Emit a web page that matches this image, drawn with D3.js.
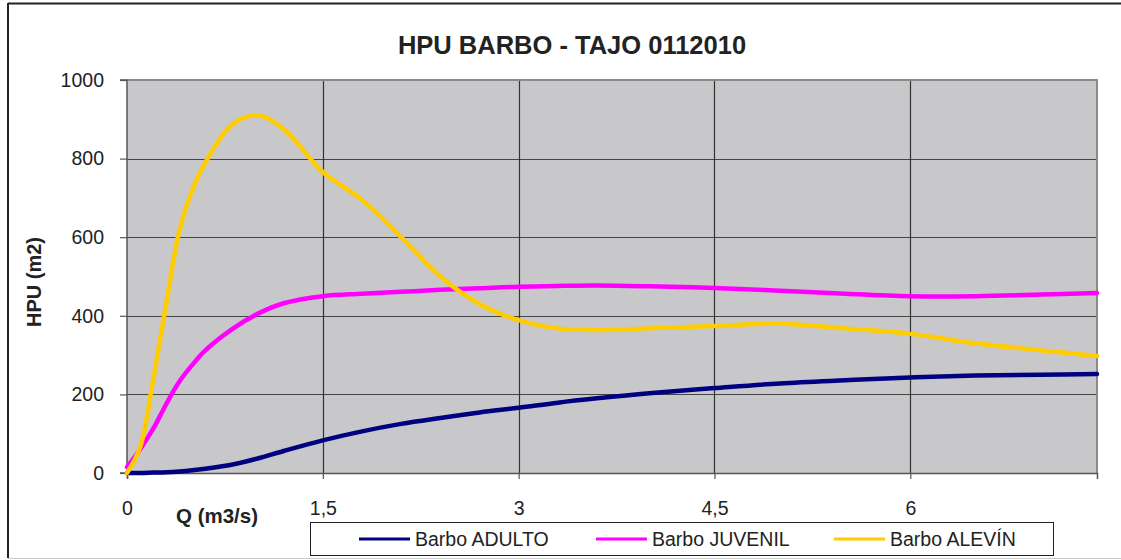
<!DOCTYPE html>
<html><head><meta charset="utf-8">
<script src="https://cdn.jsdelivr.net/npm/d3@7"></script>
<style>body{margin:0;background:#fff}svg{display:block;font-family:"Liberation Sans",Arial,sans-serif}</style>
</head><body><svg id="c" width="1121" height="560"></svg>
<script>
const title = "HPU BARBO - TAJO 0112010";
const xTitle = "Q (m3/s)";
const yTitle = "HPU (m2)";
const xTicks = [0, 1.5, 3, 4.5, 6];
const xTickLabels = ["0", "1,5", "3", "4,5", "6"];
const yTicks = [0, 200, 400, 600, 800, 1000];
const seriesNames = ["Barbo ADULTO", "Barbo JUVENIL", "Barbo ALEVÍN"];
const seriesColors = ["#000080", "#FF00FF", "#FFCC00"];
const Q = [0, 0.1, 0.2, 0.3, 0.4, 0.5, 0.6, 0.8, 1.0, 1.2, 1.5, 1.8, 2.1, 2.4, 2.7, 3.0, 3.3, 3.6, 4.0, 4.5, 5.0, 5.5, 6.0, 6.5, 7.0, 7.43];
const adulto = [0, 0, 1, 2, 4, 7, 11, 21, 37, 56, 83, 106, 125, 140, 154, 166, 179, 190, 203, 216, 228, 236, 243, 248, 250, 252];
const juvenil = [15, 60, 112, 175, 232, 275, 312, 365, 405, 432, 450, 456, 461, 466, 470, 474, 476, 477, 475, 471, 464, 456, 450, 450, 454, 458];
const alevin = [0, 65, 237, 430, 615, 720, 790, 885, 910, 875, 766, 695, 600, 500, 430, 389, 368, 364, 368, 374, 380, 368, 354, 330, 312, 298];
const seriesValues = [adulto, juvenil, alevin];

const svg = d3.select("#c");
const L = 127, R = 1097, T = 80, B = 473;
const x = d3.scaleLinear().domain([0, 7.43]).range([L, R]);
const y = d3.scaleLinear().domain([0, 1000]).range([B, T]);

// outer frame
svg.append("line").attr("x1", 8).attr("x2", 1121).attr("y1", 3.5).attr("y2", 3.5).attr("stroke", "#222").attr("stroke-width", 2);
svg.append("line").attr("x1", 8).attr("x2", 8).attr("y1", 3).attr("y2", 558).attr("stroke", "#222").attr("stroke-width", 2);
svg.append("line").attr("x1", 8).attr("x2", 1121).attr("y1", 558.5).attr("y2", 558.5).attr("stroke", "#ccc").attr("stroke-width", 1);

// plot bg
svg.append("rect").attr("x", L).attr("y", T).attr("width", R - L).attr("height", B - T).attr("fill", "#C8C8CA");

// grid
svg.append("g").selectAll("line").data(yTicks.slice(1, -1)).join("line")
  .attr("x1", L).attr("x2", R).attr("y1", d => Math.round(y(d)) + 0.5).attr("y2", d => Math.round(y(d)) + 0.5)
  .attr("stroke", "#444").attr("stroke-width", 1.2);
svg.append("g").selectAll("line").data(xTicks.slice(1)).join("line")
  .attr("y1", T).attr("y2", B).attr("x1", d => Math.round(x(d)) + 0.5).attr("x2", d => Math.round(x(d)) + 0.5)
  .attr("stroke", "#333").attr("stroke-width", 1.2);

// plot border top/right
svg.append("path").attr("d", `M${L},${T}H${R}V${B}`).attr("fill", "none").attr("stroke", "#8a8a8a").attr("stroke-width", 2);

// axes
const yAxis = d3.axisLeft(y).tickValues(yTicks).tickSize(7).tickPadding(16).tickFormat(d3.format("d"));
const gy = svg.append("g").attr("transform", `translate(${L},0)`).call(yAxis);
const xAxis = d3.axisBottom(x).tickValues(xTicks).tickSize(6).tickPadding(22).tickFormat((d, i) => xTickLabels[i]);
const gx = svg.append("g").attr("transform", `translate(0,${B})`).call(xAxis);
[gx, gy].forEach(g => {
  g.select(".domain").attr("stroke", "#555").attr("stroke-width", 1.5);
  g.selectAll(".tick line").attr("stroke", "#555").attr("stroke-width", 1.2);
  g.selectAll(".tick text").attr("font-size", 19.5).attr("fill", "#222").attr("font-family", "Liberation Sans, Arial, sans-serif");
});
gy.select(".domain").attr("d", `M-7,${T}H0V${B}H-7`);

// lines
const line = d3.line().x(d => x(d[0])).y(d => y(d[1])).curve(d3.curveCatmullRom.alpha(0.5));
seriesValues.forEach((vals, i) => {
  svg.append("path").datum(Q.map((q, j) => [q, vals[j]]))
    .attr("d", line).attr("fill", "none").attr("stroke", seriesColors[i])
    .attr("stroke-width", 4.5).attr("stroke-linejoin", "round").attr("stroke-linecap", "round");
});

// titles
svg.append("text").attr("x", 572).attr("y", 54).attr("text-anchor", "middle").attr("font-size", 25.5).attr("font-weight", "bold").attr("fill", "#222").text(title);
svg.append("text").attr("x", 217).attr("y", 523).attr("text-anchor", "middle").attr("font-size", 20.5).attr("font-weight", "bold").attr("fill", "#222").text(xTitle);
svg.append("text").attr("transform", "translate(41,282) rotate(-90)").attr("text-anchor", "middle").attr("font-size", 20).attr("font-weight", "bold").attr("fill", "#222").text(yTitle);

// legend
svg.append("rect").attr("x", 310.5).attr("y", 522.5).attr("width", 743).attr("height", 33).attr("fill", "#fff").attr("stroke", "#222").attr("stroke-width", 1);
const legX = [359, 596, 834];
seriesNames.forEach((n, i) => {
  svg.append("line").attr("x1", legX[i]).attr("x2", legX[i] + 51).attr("y1", 539).attr("y2", 539).attr("stroke", seriesColors[i]).attr("stroke-width", 3);
  svg.append("text").attr("x", legX[i] + 56).attr("y", 546).attr("font-size", 19.5).attr("fill", "#222").text(n);
});
</script></body></html>
